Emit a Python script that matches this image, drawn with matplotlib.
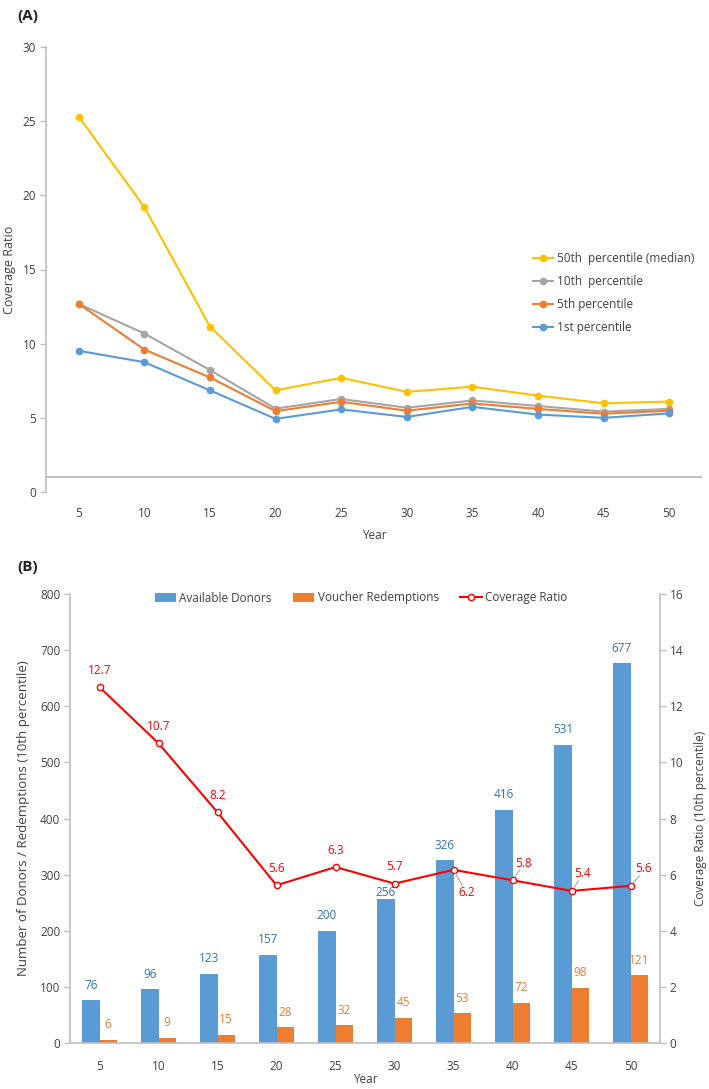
import matplotlib
matplotlib.use("Agg")
import matplotlib.pyplot as plt
import numpy as np

plt.rcParams['font.family'] = ['Open Sans', 'DejaVu Sans']

# ---------------- data ----------------
years = [5, 10, 15, 20, 25, 30, 35, 40, 45, 50]
p50 = [25.3, 19.2, 11.15, 6.85, 7.7, 6.75, 7.1, 6.5, 5.98, 6.1]
p10 = [12.68, 10.68, 8.22, 5.62, 6.27, 5.68, 6.17, 5.80, 5.42, 5.60]
p5 = [12.68, 9.6, 7.72, 5.45, 6.08, 5.48, 5.97, 5.6, 5.28, 5.48]
p1 = [9.52, 8.75, 6.85, 4.93, 5.57, 5.06, 5.74, 5.22, 5.0, 5.3]
series_labels = ['50th  percentile (median)', '10th  percentile', '5th percentile', '1st percentile']

donors = [76, 96, 123, 157, 200, 256, 326, 416, 531, 677]
redemptions = [6, 9, 15, 28, 32, 45, 53, 72, 98, 121]
coverage = p10

# ---------------- style ----------------
C_GOLD = '#FFC000'
C_GRAY = '#A5A5A5'
C_ORANGE = '#ED7D31'
C_BLUE = '#5B9BD5'
C_RED = '#FF0000'
SPINE = '#BFBFBF'
TXT = '#404040'
FS = 8.5

fig = plt.figure(figsize=(7.09, 10.89), dpi=100)
W, H = 709, 1089

def axes_px(x0, y0, x1, y1):
    return fig.add_axes([x0 / W, 1 - y1 / H, (x1 - x0) / W, (y1 - y0) / H])

x = np.arange(len(years))

# ---------------- Panel A ----------------
axA = axes_px(46, 47, 702, 492)
for vals, col, lab in zip([p50, p10, p5, p1], [C_GOLD, C_GRAY, C_ORANGE, C_BLUE], series_labels):
    axA.plot(x, vals, color=col, lw=1.5, marker='o', ms=4.5, label=lab)
axA.set_xlim(-0.5, 9.5)
axA.set_ylim(0, 30)
axA.set_yticks([0, 5, 10, 15, 20, 25, 30])
axA.set_xticks(x)
axA.set_xticklabels([str(y) for y in years])
for s in ['top', 'right', 'bottom']:
    axA.spines[s].set_visible(False)
axA.spines['left'].set_color(SPINE)
axA.spines['left'].set_linewidth(1.2)
axA.axhline(1, color=SPINE, lw=1.5, zorder=0)
axA.tick_params(axis='y', colors=SPINE, labelcolor=TXT, labelsize=FS, length=4, width=1, pad=3)
axA.tick_params(axis='x', length=0, labelsize=FS, labelcolor=TXT, pad=11)
axA.set_ylabel('Coverage Ratio', fontsize=9, color=TXT)
axA.yaxis.set_label_coords(-0.046, 0.5)
axA.set_xlabel('Year', fontsize=FS, color=TXT)
axA.xaxis.set_label_coords(0.5, -0.083)
legA = fig.legend(loc='upper left', bbox_to_anchor=(533 / W, 1 - 252 / H), frameon=False,
                  fontsize=FS, handlelength=1.7, handletextpad=0.3, labelspacing=0.85,
                  borderpad=0, borderaxespad=0)
for t in legA.get_texts():
    t.set_color(TXT)
fig.text(17 / W, 1 - 16 / H, '(A)', fontsize=11, fontweight='bold', va='center', ha='left', color='#222222')

# ---------------- Panel B ----------------
axB = axes_px(70, 594, 660, 1043)
w = 0.29
b1 = axB.bar(x - w / 2, donors, w, color=C_BLUE, label='Available Donors', zorder=2)
b2 = axB.bar(x + w / 2, redemptions, w, color=C_ORANGE, label='Voucher Redemptions', zorder=2)
axB.set_xlim(-0.5, 9.5)
axB.set_ylim(0, 800)
axB.set_yticks(range(0, 801, 100))
axB.set_xticks(x)
axB.set_xticklabels([str(y) for y in years])
for s in ['top', 'right']:
    axB.spines[s].set_visible(False)
for s in ['left', 'bottom']:
    axB.spines[s].set_color(SPINE)
    axB.spines[s].set_linewidth(1.2)
axB.tick_params(axis='y', colors=SPINE, labelcolor=TXT, labelsize=FS, length=4, width=1, pad=3)
axB.tick_params(axis='x', length=0, labelsize=FS, labelcolor=TXT, pad=12)
axB.set_ylabel('Number of Donors / Redemptions (10th percentile)', fontsize=9.5, color=TXT)
axB.yaxis.set_label_coords(-0.068, 0.5)
axB.set_xlabel('Year', fontsize=FS, color=TXT)
axB.xaxis.set_label_coords(0.5, -0.066)

axB2 = axB.twinx()
axB2.set_ylim(0, 16)
axB2.set_yticks(range(0, 17, 2))
l1, = axB2.plot(x, coverage, color=C_RED, lw=1.5, marker='o', ms=4.5, mfc='white', mec=C_RED, mew=1,
                label='Coverage Ratio', zorder=3)
for s in ['top', 'left', 'bottom']:
    axB2.spines[s].set_visible(False)
axB2.spines['right'].set_color(SPINE)
axB2.spines['right'].set_linewidth(1.2)
axB2.tick_params(axis='y', colors=SPINE, labelcolor=TXT, labelsize=FS, length=4, width=1, pad=3)
axB2.set_ylabel('Coverage Ratio (10th percentile)', fontsize=8.5, color=TXT, rotation=90)
axB2.yaxis.set_label_coords(1.058, 0.5)

# data labels
LFS = 8.5
donor_dy = [15] * 10
donor_dy[5] = 7
for i, v in enumerate(donors):
    axB.annotate(str(v), (x[i] - w / 2, v), xytext=(0, donor_dy[i]), textcoords='offset pixels',
                 ha='center', va='center', fontsize=LFS, color='#2E75B6', zorder=5)
for i, v in enumerate(redemptions):
    axB.annotate(str(v), (x[i] + w / 2, v), xytext=(0, 15), textcoords='offset pixels',
                 ha='center', va='center', fontsize=LFS, color=C_ORANGE, zorder=5)
red_off = [(0, 17)] * 10
red_off[6] = (13, -23)
red_off[7] = (11, 17)
red_off[8] = (11, 17)
red_off[9] = (13, 17)
leader = [6, 7, 8, 9]
for i, v in enumerate(coverage):
    dx, dy = red_off[i]
    axB2.annotate(f'{v:.1f}', (x[i], v), xytext=(dx, dy), textcoords='offset pixels',
                  ha='center', va='center', fontsize=LFS, color=C_RED, zorder=6)
    if i in leader:
        sx = 1 if dx > 0 else -1
        sy = 1 if dy > 0 else -1
        axB2.annotate('', (x[i], v), xytext=(dx - 4 * sx, dy - 7 * sy), textcoords='offset pixels',
                      arrowprops=dict(arrowstyle='-', color='#A6A6A6', lw=0.8, shrinkA=0, shrinkB=3))

legB = axB.legend(handles=[b1, b2, l1], loc='center', bbox_to_anchor=(361 / W, 1 - 598 / H),
                  bbox_transform=fig.transFigure, ncol=3, frameon=False, fontsize=FS,
                  handlelength=1.8, handleheight=0.8, handletextpad=0.3, columnspacing=1.8,
                  borderpad=0)
for t in legB.get_texts():
    t.set_color(TXT)
fig.text(17 / W, 1 - 567 / H, '(B)', fontsize=11, fontweight='bold', va='center', ha='left', color='#222222')

fig.savefig('out.png', dpi=100)
